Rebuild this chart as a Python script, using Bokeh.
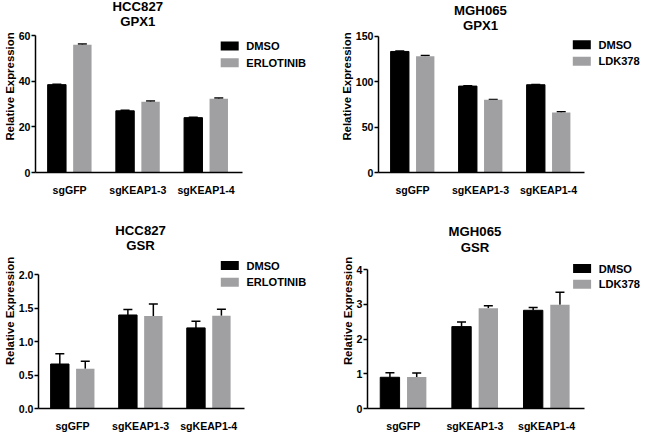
from bokeh.plotting import figure
from bokeh.models import (Range1d, FixedTicker, Whisker, TeeHead, ColumnDataSource,
                          Label, NumeralTickFormatter, GlobalInlineStyleSheet, BoxAnnotation)
from bokeh.layouts import row, column
from bokeh.embed import file_html
from bokeh.resources import INLINE

categories = ["sgGFP", "sgKEAP1-3", "sgKEAP1-4"]

# HCC827 GPX1
hcc_gpx1_dmso = [38.6, 27.1, 24.1]
hcc_gpx1_dmso_err = [0.2, 0.2, 0.2]
hcc_gpx1_erl = [56.1, 31.1, 32.4]
hcc_gpx1_erl_err = [0.3, 0.3, 0.3]

# MGH065 GPX1
mgh_gpx1_dmso = [133.2, 95.1, 96.6]
mgh_gpx1_dmso_err = [0.5, 0.3, 0.3]
mgh_gpx1_ldk = [128.0, 80.1, 66.0]
mgh_gpx1_ldk_err = [0.8, 0.3, 0.8]

# HCC827 GSR
hcc_gsr_dmso = [0.665, 1.398, 1.205]
hcc_gsr_dmso_err = [0.155, 0.08, 0.10]
hcc_gsr_erl = [0.593, 1.383, 1.388]
hcc_gsr_erl_err = [0.115, 0.18, 0.095]

# MGH065 GSR
mgh_gsr_dmso = [0.90, 2.36, 2.83]
mgh_gsr_dmso_err = [0.13, 0.13, 0.08]
mgh_gsr_ldk = [0.91, 2.89, 2.99]
mgh_gsr_ldk_err = [0.11, 0.07, 0.36]

ticks_hcc_gpx1 = [0, 20, 40, 60]
ticks_mgh_gpx1 = [0, 50, 100, 150]
ticks_hcc_gsr = [0.0, 0.5, 1.0, 1.5, 2.0]
ticks_mgh_gsr = [0, 1, 2, 3, 4]

FONT = "Liberation Sans"
GRAY = "#a0a0a3"
OFF = 0.187
BW = 0.27


def panel(t1, t2, dmso, dmso_err, trt, trt_err, trt_name, ticks, fmt,
          fig_x, fig_y, width, height, frame_left, axis_y, tick_top, pitch,
          base1, base2, sw_left, sw_tops, label_need):
    # all geometry in page pixels
    bl = max(frame_left - fig_x, label_need)
    bb = max(height - (axis_y - fig_y), 17)
    frame_w = width - bl
    frame_h = height - bb
    n = len(categories)
    xmax = frame_w / pitch
    top_local = tick_top - fig_y
    ymax = ticks[-1] * frame_h / (frame_h - top_local)
    p = figure(width=width, height=height, x_range=Range1d(0, xmax), y_range=Range1d(0, ymax),
               title=None, toolbar_location=None, output_backend="svg",
               min_border_left=int(round(bl)), min_border_right=0, min_border_top=0,
               min_border_bottom=int(round(bb)), styles={"flex-shrink": "0"})

    xc = [i + 0.5 for i in range(n)]
    src_d = ColumnDataSource(dict(x=[c - OFF for c in xc], top=dmso,
                                  upper=[v + e for v, e in zip(dmso, dmso_err)]))
    src_t = ColumnDataSource(dict(x=[c + OFF for c in xc], top=trt,
                                  upper=[v + e for v, e in zip(trt, trt_err)]))
    p.vbar(x="x", top="top", width=BW, source=src_d, fill_color="black", line_color="black")
    p.vbar(x="x", top="top", width=BW, source=src_t, fill_color=GRAY, line_color=None)
    for src in (src_d, src_t):
        p.add_layout(Whisker(base="x", lower="top", upper="upper", source=src,
                             line_color="black", line_width=1.5,
                             upper_head=TeeHead(size=9, line_color="black", line_width=1.5),
                             lower_head=None))

    def yup(page_y):
        return frame_h - (page_y - fig_y)

    for txt, base in ((t1, base1), (t2, base2)):
        p.add_layout(Label(x=n / 2, y=frame_h - base, y_units="screen", text=txt,
                           text_align="center", text_baseline="alphabetic",
                           text_font=FONT, text_font_style="bold", text_font_size="13.2px",
                           text_color="black"))

    # legend: swatches + labels
    fx = sw_left - fig_x - bl
    for name, color, top in (("DMSO", "black", sw_tops[0]), (trt_name, GRAY, sw_tops[1])):
        p.add_layout(BoxAnnotation(left=fx, right=fx + 18, top=yup(top), bottom=yup(top + 9),
                                   left_units="screen", right_units="screen",
                                   top_units="screen", bottom_units="screen",
                                   fill_color=color, fill_alpha=1.0, line_color=None))
        p.add_layout(Label(x=fx + 25.6, y=yup(top + 4.6), x_units="screen", y_units="screen",
                           text=name, text_align="left", text_baseline="middle",
                           text_font=FONT, text_font_style="bold", text_font_size="11.1px",
                           text_color="black"))

    p.xgrid.visible = False
    p.ygrid.visible = False
    p.outline_line_color = None

    for ax in (p.xaxis[0], p.yaxis[0]):
        ax.axis_line_width = 1.5
        ax.axis_line_color = "black"
        ax.major_label_text_font = FONT
        ax.major_label_text_font_style = "bold"
        ax.major_label_text_font_size = "10.6px"
        ax.major_label_text_color = "black"
        ax.minor_tick_line_color = None

    p.xaxis.bounds = (0, n + 0.03)
    p.xaxis.ticker = FixedTicker(ticks=xc)
    p.xaxis.major_label_overrides = {c: name for c, name in zip(xc, categories)}
    p.xaxis.major_tick_line_color = None
    p.xaxis.major_label_standoff = 5

    p.yaxis.bounds = (0, ticks[-1])
    p.yaxis.ticker = FixedTicker(ticks=ticks)
    p.yaxis.formatter = NumeralTickFormatter(format=fmt)
    p.yaxis.major_tick_out = 4
    p.yaxis.major_tick_in = 0
    p.yaxis.major_tick_line_width = 1.5
    p.yaxis.major_tick_line_color = "black"
    p.yaxis.major_label_standoff = 1
    p.yaxis.axis_label = "Relative Expression"
    p.yaxis.axis_label_text_font = FONT
    p.yaxis.axis_label_text_font_style = "bold"
    p.yaxis.axis_label_text_font_size = "11.4px"
    p.yaxis.axis_label_text_color = "black"
    p.yaxis.axis_label_standoff = 0
    return p


WL, WR, HT, HB = 325, 317, 213, 221

p1 = panel("HCC827", "GPX1", hcc_gpx1_dmso, hcc_gpx1_dmso_err, hcc_gpx1_erl, hcc_gpx1_erl_err,
           "ERLOTINIB", ticks_hcc_gpx1, "0", 8, 8, WL, HT,
           36, 184.3, 44.3, 69.5, 10.3, 24.8, 222.7, (53.3, 70.0), 29.5)
p2 = panel("MGH065", "GPX1", mgh_gpx1_dmso, mgh_gpx1_dmso_err, mgh_gpx1_ldk, mgh_gpx1_ldk_err,
           "LDK378", ticks_mgh_gpx1, "0", 8 + WL, 8, WR, HT,
           386, 180.0, 43.7, 68.0, 10.3, 24.8, 580.3, (47.7, 64.3), 36)
p3 = panel("HCC827", "GSR", hcc_gsr_dmso, hcc_gsr_dmso_err, hcc_gsr_erl, hcc_gsr_erl_err,
           "ERLOTINIB", ticks_hcc_gsr, "0.0", 8, 8 + HT, WL, HB,
           36, 422.7, 284.3, 69.4, 23.7, 39.0, 222.7, (275.3, 292.0), 32.4)
p4 = panel("MGH065", "GSR", mgh_gsr_dmso, mgh_gsr_dmso_err, mgh_gsr_ldk, mgh_gsr_ldk_err,
           "LDK378", ticks_mgh_gsr, "0", 8 + WL, 8 + HT, WR, HB,
           374.7, 422.3, 279.0, 71.7, 24.0, 40.0, 580.3, (277.7, 293.5), 24)

page_css = GlobalInlineStyleSheet(css="html, body { overflow: hidden; }")
layout = column(row(p1, p2), row(p3, p4), stylesheets=[page_css])
open("out.html", "w").write(file_html(layout, INLINE))
